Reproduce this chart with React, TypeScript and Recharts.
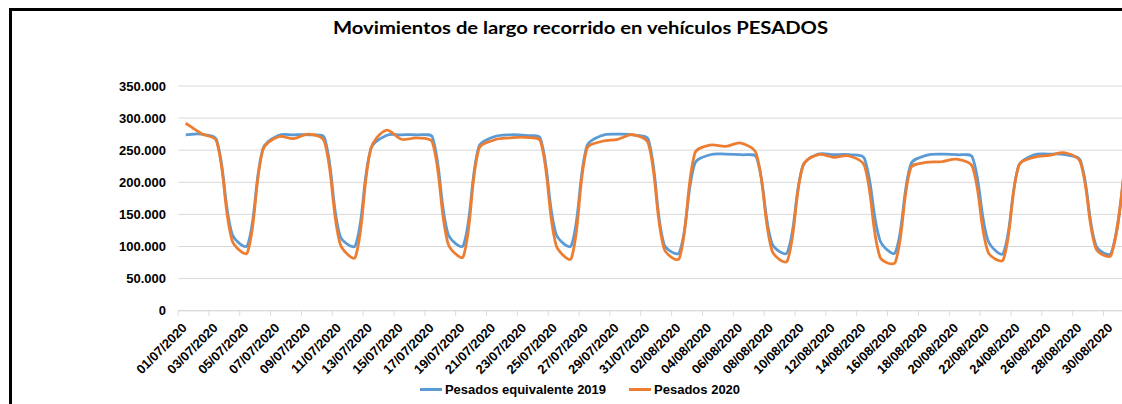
import React from "react";
import { CartesianGrid, Legend, Line, LineChart, XAxis, YAxis } from "recharts";

// 01/07/2020 .. 31/08/2020, one value per day
const fechas = [
  "01/07/2020", "02/07/2020", "03/07/2020", "04/07/2020", "05/07/2020", "06/07/2020", "07/07/2020",
  "08/07/2020", "09/07/2020", "10/07/2020", "11/07/2020", "12/07/2020", "13/07/2020", "14/07/2020",
  "15/07/2020", "16/07/2020", "17/07/2020", "18/07/2020", "19/07/2020", "20/07/2020", "21/07/2020",
  "22/07/2020", "23/07/2020", "24/07/2020", "25/07/2020", "26/07/2020", "27/07/2020", "28/07/2020",
  "29/07/2020", "30/07/2020", "31/07/2020", "01/08/2020", "02/08/2020", "03/08/2020", "04/08/2020",
  "05/08/2020", "06/08/2020", "07/08/2020", "08/08/2020", "09/08/2020", "10/08/2020", "11/08/2020",
  "12/08/2020", "13/08/2020", "14/08/2020", "15/08/2020", "16/08/2020", "17/08/2020", "18/08/2020",
  "19/08/2020", "20/08/2020", "21/08/2020", "22/08/2020", "23/08/2020", "24/08/2020", "25/08/2020",
  "26/08/2020", "27/08/2020", "28/08/2020", "29/08/2020", "30/08/2020", "31/08/2020",
];

const pesados2019 = [
  274000, 275000, 266000, 120000, 101500, 252000, 273000,
  274000, 274000, 269000, 117000, 101500, 252000, 273000,
  274000, 274000, 270000, 120000, 101500, 255000, 271000,
  274000, 273000, 268000, 120000, 101500, 256000, 273000,
  275000, 274000, 266000, 104000, 90500, 229000, 243000,
  244000, 243000, 239000, 105000, 90500, 225000, 244000,
  243000, 243000, 237000, 110000, 90500, 228000, 242000,
  244000, 243000, 239000, 110000, 89500, 226000, 243000,
  244000, 243000, 234000, 102000, 89500, 245000,
];

const pesados2020 = [
  292000, 276000, 264000, 110000, 90500, 250000, 271000,
  268000, 275000, 263000, 105000, 83500, 252000, 281000,
  267000, 269000, 262000, 105000, 84500, 252000, 266000,
  269000, 270000, 264000, 103000, 81500, 252000, 264000,
  267000, 274000, 260000, 97000, 81500, 245000, 258000,
  256000, 261000, 244000, 94000, 77500, 225000, 243000,
  239000, 241000, 226000, 84000, 75500, 222000, 231000,
  232000, 236000, 224000, 92000, 79500, 226000, 239000,
  242000, 246000, 231000, 97000, 86500, 250000,
];

const yTicks = [0, 50000, 100000, 150000, 200000, 250000, 300000, 350000];
const xTicks = fechas.map((_, i) => i).filter((i) => i % 2 === 0);

const data = fechas.map((fecha, i) => ({ i, fecha, p2019: pesados2019[i], p2020: pesados2020[i] }));

const FONT = '"Liberation Sans", Arial, sans-serif';
const W = 1160;
const H = 404;
const PLOT_LEFT = 178;
const PLOT_RIGHT = 1134.4;
const PLOT_TOP = 86;
const PLOT_BOTTOM = 310.7;
const Y_W = 60;
const X_H = 60;
const HALF_BAND = (PLOT_RIGHT - PLOT_LEFT) / fechas.length / 2;

const fmtMiles = (v: number) => (v === 0 ? "0" : v.toLocaleString("de-DE"));

// Excel-style smoothed line: cardinal bezier (1/6) with tangents scaled by chord length
function excelSmooth(context: any) {
  let pts: [number, number][] = [];
  const dist = (a: [number, number], b: [number, number]) => Math.hypot(b[0] - a[0], b[1] - a[1]);
  return {
    areaStart() {},
    areaEnd() {},
    lineStart() {
      pts = [];
    },
    point(x: number, y: number) {
      pts.push([+x, +y]);
    },
    lineEnd() {
      if (!pts.length) return;
      context.moveTo(pts[0][0], pts[0][1]);
      for (let k = 0; k < pts.length - 1; k++) {
        const p0 = pts[k - 1] ?? pts[k];
        const p1 = pts[k];
        const p2 = pts[k + 1];
        const p3 = pts[k + 2] ?? p2;
        const d01 = dist(p0, p1);
        const d12 = dist(p1, p2);
        const d23 = dist(p2, p3);
        const s1 = d01 + d12 > 0 ? (2 * d12) / (d01 + d12) : 1;
        const s2 = d12 + d23 > 0 ? (2 * d12) / (d12 + d23) : 1;
        const c1x = p1[0] + ((p2[0] - p0[0]) / 6) * s1;
        const c1y = p1[1] + ((p2[1] - p0[1]) / 6) * s1;
        const c2x = p2[0] - ((p3[0] - p1[0]) / 6) * s2;
        const c2y = p2[1] - ((p3[1] - p1[1]) / 6) * s2;
        context.bezierCurveTo(c1x, c1y, c2x, c2y, p2[0], p2[1]);
      }
    },
  };
}

function XTick({ x, y, payload }: any) {
  const label = fechas[payload.value] ?? "";
  return (
    <g>
      <line x1={x - HALF_BAND} x2={x - HALF_BAND} y1={y} y2={y + 5} stroke="#d9d9d9" />
      <text
        transform={`translate(${x + 2},${y + 18}) rotate(-45)`}
        textAnchor="end"
        fontFamily={FONT}
        fontWeight="bold"
        fontSize={13}
        fill="#000"
      >
        {label}
      </text>
    </g>
  );
}

function LegendContent({ payload }: any) {
  return (
    <div style={{ display: "flex", justifyContent: "center", alignItems: "center", fontFamily: FONT, fontWeight: "bold", fontSize: 13, color: "#000" }}>
      {(payload ?? []).map((p: any, k: number) => (
        <div key={p.value} style={{ display: "flex", alignItems: "center", marginLeft: k === 0 ? 0 : 23 }}>
          <span style={{ display: "inline-block", width: 22, height: 3, background: p.color, marginRight: 3 }} />
          <span>{p.value}</span>
        </div>
      ))}
    </div>
  );
}

export default function App() {
  return (
    <div style={{ position: "fixed", left: 0, top: 0, width: 1122, height: 404, overflow: "hidden", background: "#fff" }}>
      <div style={{ position: "absolute", left: 9, top: 8, width: 1145, height: 430, border: "3px solid #000", boxSizing: "border-box" }} />
      <svg style={{ position: "absolute", left: 0, top: 0 }} width={1122} height={50}>
        <text x={580.5} y={34} textAnchor="middle" fontFamily="Lato, sans-serif" fontWeight="bold" fontSize={16.5} fill="#000" textLength={495} lengthAdjust="spacingAndGlyphs">
          Movimientos de largo recorrido en vehículos PESADOS
        </text>
      </svg>
      <div style={{ position: "absolute", left: 0, top: 0 }}>
        <LineChart
          width={W}
          height={H}
          data={data}
          margin={{ top: PLOT_TOP, left: PLOT_LEFT - Y_W, right: W - PLOT_RIGHT, bottom: H - PLOT_BOTTOM - X_H }}
        >
          <CartesianGrid vertical={false} stroke="#d9d9d9" />
          <XAxis
            dataKey="i"
            type="number"
            domain={[-0.5, fechas.length - 0.5]}
            ticks={xTicks}
            interval={0}
            height={X_H}
            tick={<XTick />}
            tickLine={false}
            tickSize={0}
            tickMargin={0}
            axisLine={{ stroke: "#d9d9d9" }}
          />
          <YAxis
            domain={[0, 350000]}
            ticks={yTicks}
            width={Y_W}
            axisLine={false}
            tickLine={false}
            tickSize={0}
            tickMargin={12}
            tickFormatter={fmtMiles}
            tick={{ fill: "#000", fontFamily: FONT, fontWeight: "bold", fontSize: 13 }}
          />
          <Legend
            verticalAlign="middle"
            align="center"
            layout="horizontal"
            itemSorter="dataKey"
            content={<LegendContent />}
            wrapperStyle={{ left: 0, top: 382, width: W }}
          />
          <Line name="Pesados equivalente 2019" dataKey="p2019" type={excelSmooth as any} stroke="#5b9bd5" strokeWidth={2.75} dot={false} activeDot={false} isAnimationActive={false} />
          <Line name="Pesados 2020" dataKey="p2020" type={excelSmooth as any} stroke="#ed7d31" strokeWidth={2.75} dot={false} activeDot={false} isAnimationActive={false} />
        </LineChart>
      </div>
    </div>
  );
}
